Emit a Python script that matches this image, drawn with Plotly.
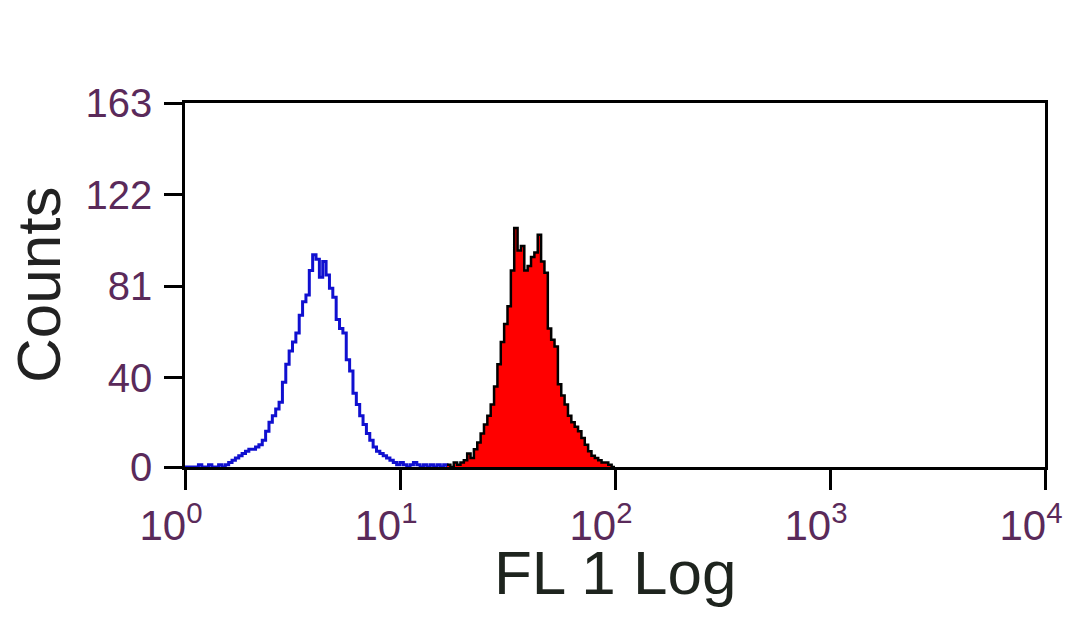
import plotly.graph_objects as go

# 256 channels over 4 decades (channel c -> value 10**(c/64))
blue_start = 0
blue_counts = [0, 0, 0, 0, 1, 0, 0, 1, 0, 0, 1, 0, 1, 2, 3, 4, 5, 6, 7, 8,
               8, 9, 10, 12, 16, 20, 23, 26, 29, 38, 46, 52, 56, 60, 68, 74, 77, 88, 95, 93,
               85, 92, 86, 80, 76, 66, 62, 60, 48, 43, 33, 28, 23, 19, 15, 12, 9, 7, 6, 5,
               4, 3, 2, 1, 2, 1, 0, 1, 2, 1, 0, 1, 0, 1, 0, 1, 0, 1, 0]

red_start = 78
red_counts = [1, 0, 2, 1, 2, 3, 6, 4, 8, 11, 15, 19, 23, 28, 36, 46, 56, 64, 72, 88,
              107, 97, 99, 88, 90, 94, 96, 104, 92, 87, 62, 57, 54, 37, 32, 28, 23, 20, 18, 16,
              13, 10, 7, 5, 4, 3, 2, 2, 1, 0]

y_ticks = [0, 40, 81, 122, 163]
x_ticks = [1, 10, 100, 1000, 10000]
x_tick_text = ["10<sup>0</sup>", "10<sup>1</sup>", "10<sup>2</sup>", "10<sup>3</sup>", "10<sup>4</sup>"]
channels_per_decade = 64


def step_xy(start, counts):
    xs = [10 ** ((start + i) / channels_per_decade) for i in range(len(counts) + 1)]
    ys = list(counts) + [counts[-1]]
    return xs, ys


bx, by = step_xy(blue_start, blue_counts)
rx, ry = step_xy(red_start, red_counts)

fig = go.Figure()
fig.add_trace(go.Scatter(x=bx, y=by, mode="lines", line=dict(color="#1010d0", width=3, shape="hv"),
                         hoverinfo="skip", showlegend=False))
fig.add_trace(go.Scatter(x=rx, y=ry, mode="lines", fill="tozeroy", fillcolor="#ff0000",
                         line=dict(color="#000000", width=2.5, shape="hv"),
                         hoverinfo="skip", showlegend=False))

font_fam = "Liberation Sans, Arial, sans-serif"
y_tick_font = dict(family=font_fam, size=40, color="#5a2a5a")
x_tick_font = dict(family=font_fam, size=42, color="#5a2a5a")

fig.update_layout(
    width=1080, height=625,
    margin=dict(l=177, r=43, t=95, b=166),
    paper_bgcolor="white", plot_bgcolor="white",
    xaxis=dict(type="log", range=[0, 4], tickvals=x_ticks, ticktext=x_tick_text,
               showgrid=False, zeroline=False, showline=True, linecolor="black", linewidth=2.5,
               mirror=True, ticks="outside", ticklen=20, tickwidth=2.5, tickcolor="black",
               tickfont=x_tick_font, ticklabelshift=-14, ticklabelstandoff=0),
    yaxis=dict(range=[0, 163], tickvals=y_ticks, showgrid=False, zeroline=False,
               showline=True, linecolor="black", linewidth=2.5, mirror=True,
               ticks="outside", ticklen=18, tickwidth=2.5, tickcolor="black",
               tickfont=y_tick_font, ticklabelstandoff=4),
    annotations=[
        dict(text="FL 1 Log", xref="paper", yref="paper", x=0.5, y=-0.29, showarrow=False,
             xanchor="center", yanchor="middle",
             font=dict(family=font_fam, size=62, color="#1e241e")),
        dict(text="Counts", xref="paper", yref="paper", x=-0.171, y=0.5, showarrow=False,
             textangle=-90, xanchor="center", yanchor="middle",
             font=dict(family=font_fam, size=62, color="#222222")),
    ],
)

fig.write_html("out.html")
